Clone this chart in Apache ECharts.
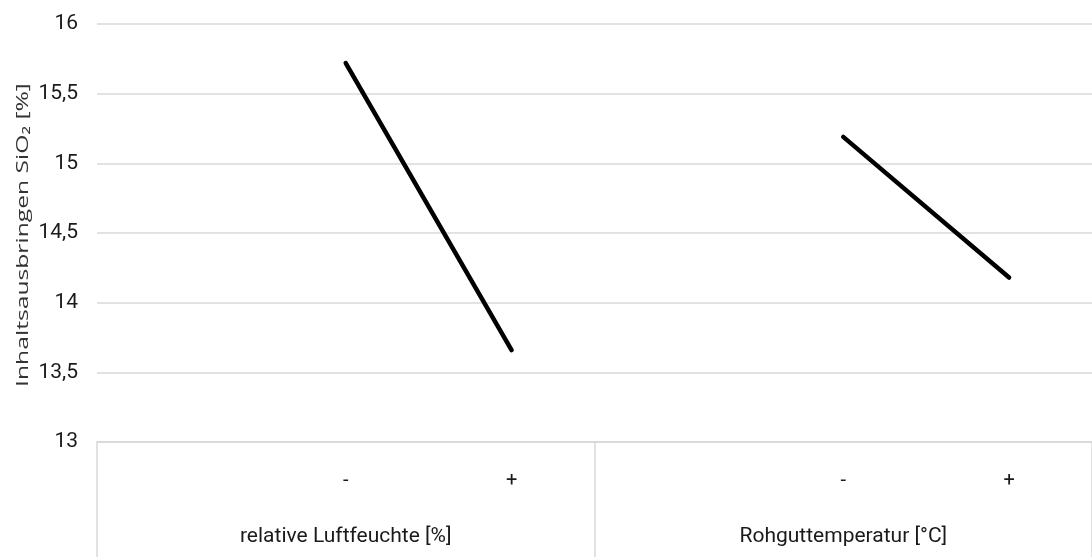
<!DOCTYPE html>
<html>
<head>
<meta charset="utf-8">
<script src="https://cdn.jsdelivr.net/npm/echarts@6/dist/echarts.min.js"></script>
<style>
  html, body { margin: 0; padding: 0; background: #fff; }
  #chart { width: 1092px; height: 557px; }
</style>
</head>
<body>
<div id="chart"></div>
<script>
// two-level category axis: factor groups, each with an empty slot then - / +
const groups      = ['relative Luftfeuchte [%]', 'Rohguttemperatur [°C]'];
const levels      = ['', '-', '+', '', '-', '+'];
const luftfeuchte = [null, 15.72, 13.66, null, null, null];
const rohgut      = [null, null, null, null, 15.19, 14.18];
const yTicks = { min: 13, max: 16, step: 0.5 };
const yName  = 'Inhaltsausbringen SiO₂ [%]';

const axisClr = '#d9d9d9';
const textClr = '#1a1a1a';
const font = 'Roboto';

const chart = echarts.init(document.getElementById('chart'));

const lineSeries = (name, data) => ({
  name, type: 'line', data, xAxisIndex: 0,
  symbol: 'none', connectNulls: false,
  lineStyle: { color: '#000', width: 4.5, cap: 'round' },
  itemStyle: { color: '#000' },
});

chart.setOption({
  backgroundColor: '#fff', animation: false,
  grid: { left: 97, right: 0, top: 24, bottom: 115, containLabel: false },
  xAxis: [
    {
      type: 'category', data: levels, position: 'bottom',
      axisLine: { lineStyle: { color: axisClr, width: 1.5 } },
      axisTick: { show: false },
      axisLabel: { interval: 0, margin: 29, color: textClr, fontFamily: font, fontSize: 20 },
    },
    {
      type: 'category', data: groups, position: 'bottom',
      axisLine: { lineStyle: { color: axisClr, width: 1.5 } },
      axisTick: { show: true, interval: 0, length: 116, lineStyle: { color: axisClr, width: 1.5 } },
      axisLabel: { interval: 0, margin: 84, color: textClr, fontFamily: font, fontSize: 21 },
    },
  ],
  yAxis: {
    type: 'value', min: yTicks.min, max: yTicks.max, interval: yTicks.step,
    axisLine: { show: false }, axisTick: { show: false },
    axisLabel: {
      margin: 19, color: textClr, fontFamily: font, fontSize: 21,
      formatter: v => String(v).replace('.', ','),
    },
    splitLine: { lineStyle: { color: axisClr, width: 1.5 } },
  },
  // axis title drawn as graphic text so it can be stretched along its length like the original
  graphic: [{
    type: 'text', x: 23, y: 235, rotation: Math.PI / 2, scaleX: 1.45,
    style: {
      text: yName, fill: '#333', font: '17px "Open Sans"',
      align: 'center', verticalAlign: 'middle',
    },
  }],
  series: [
    lineSeries('relative Luftfeuchte', luftfeuchte),
    lineSeries('Rohguttemperatur', rohgut),
  ],
});
</script>
</body>
</html>
